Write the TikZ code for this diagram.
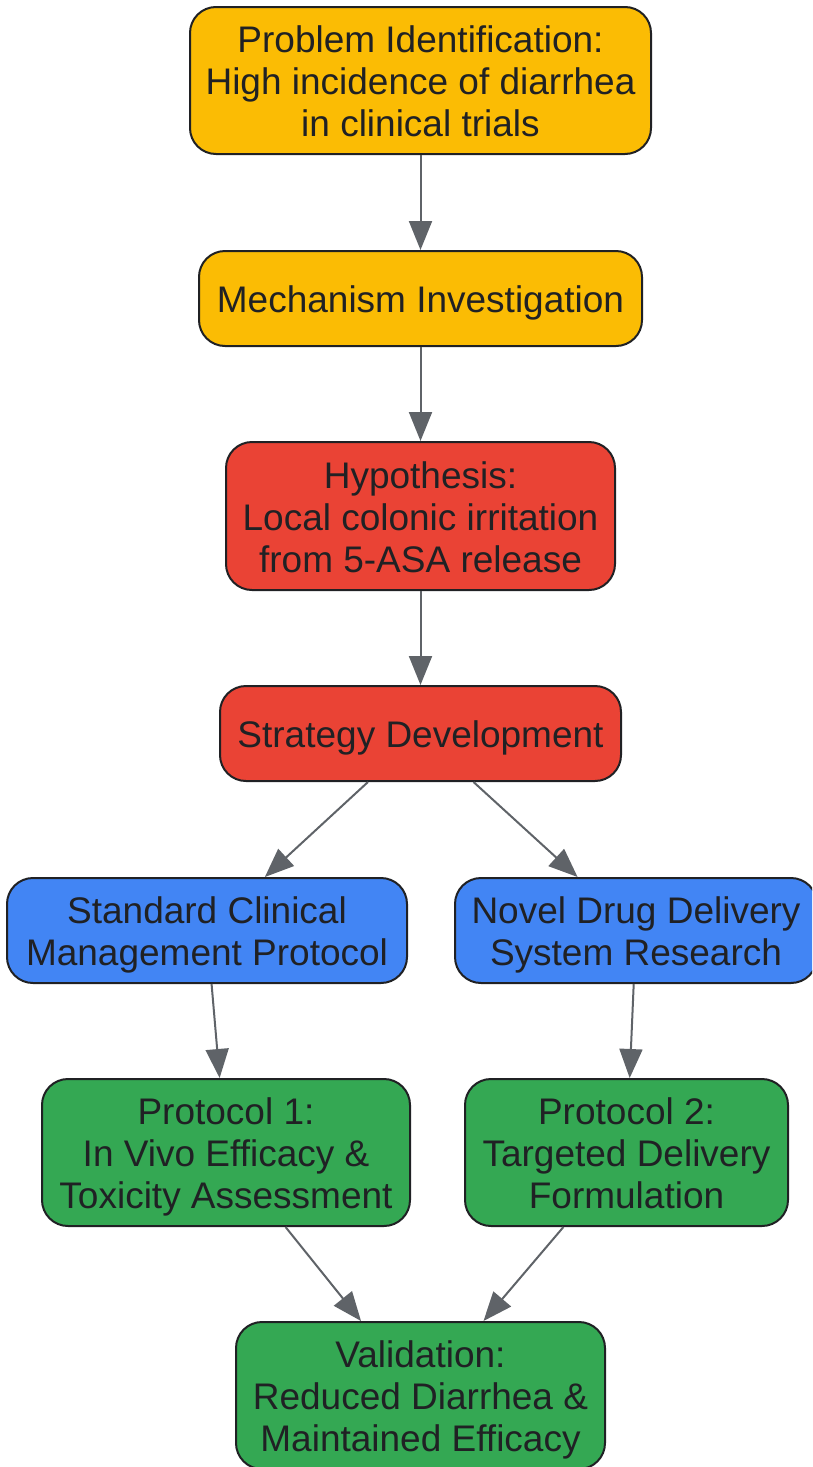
\documentclass[tikz,border=0pt]{standalone}
\usepackage{fontspec}
\setmainfont{Liberation Sans}
\usetikzlibrary{arrows.meta}
\definecolor{cyel}{HTML}{FBBC04}
\definecolor{cred}{HTML}{EA4335}
\definecolor{cblue}{HTML}{4285F4}
\definecolor{cgreen}{HTML}{34A853}
\definecolor{ctext}{HTML}{202124}
\definecolor{cline}{HTML}{5F6368}
\newcommand{\boxtxt}[2]{\raisebox{#1}[0pt][0pt]{\begin{tabular}[t]{@{}c@{}}#2\end{tabular}}}
\tikzset{
  box/.style={draw=ctext, line width=2pt, rounded corners=26pt, align=center,
    text=ctext, font=\fontsize{37}{42}\selectfont, inner sep=0pt},
  link/.style={draw=cline, line width=2pt, -{Triangle[length=29pt,width=23pt]}}
}
\begin{document}
\begin{tikzpicture}[x=1pt,y=-1pt]
\useasboundingbox (0,0) rectangle (812,1467);
\clip (0,0) rectangle (812,1467);
\node[box, fill=cyel, minimum width=461pt, minimum height=147pt] (n1) at (420.5,80.5) {\boxtxt{28pt}{Problem Identification:\\High incidence of diarrhea\\in clinical trials}};
\node[box, fill=cyel, minimum width=443pt, minimum height=95pt] (n2) at (420.5,298.5) {\boxtxt{-14pt}{Mechanism Investigation}};
\node[box, fill=cred, minimum width=389pt, minimum height=148pt] (n3) at (420.5,516) {\boxtxt{28pt}{Hypothesis:\\Local colonic irritation\\from 5-ASA release}};
\node[box, fill=cred, minimum width=401pt, minimum height=95pt] (n4) at (420.5,733.5) {\boxtxt{-14pt}{Strategy Development}};
\node[box, fill=cblue, minimum width=400pt, minimum height=105pt] (n5) at (207,930.5) {\boxtxt{7pt}{Standard Clinical\\Management Protocol}};
\node[box, fill=cblue, minimum width=362pt, minimum height=105pt] (n6) at (636,930.5) {\boxtxt{7pt}{Novel Drug Delivery\\System Research}};
\node[box, fill=cgreen, minimum width=368pt, minimum height=147pt] (n7) at (226,1152.5) {\boxtxt{28pt}{Protocol 1:\\In Vivo Efficacy \&\\Toxicity Assessment}};
\node[box, fill=cgreen, minimum width=323pt, minimum height=147pt] (n8) at (626.5,1152.5) {\boxtxt{28pt}{Protocol 2:\\Targeted Delivery\\Formulation}};
\node[box, fill=cgreen, minimum width=369pt, minimum height=147pt] (n9) at (420.5,1395.5) {\boxtxt{28pt}{Validation:\\Reduced Diarrhea \&\\Maintained Efficacy}};
\draw[link] (n1) -- (n2);
\draw[link] (n2) -- (n3);
\draw[link] (n3) -- (n4);
\draw[link] (n4) -- (n5);
\draw[link] (n4) -- (n6);
\draw[link] (n5) -- (n7);
\draw[link] (n6) -- (n8);
\draw[link] (n7) -- (n9);
\draw[link] (n8) -- (n9);
\end{tikzpicture}
\end{document}
